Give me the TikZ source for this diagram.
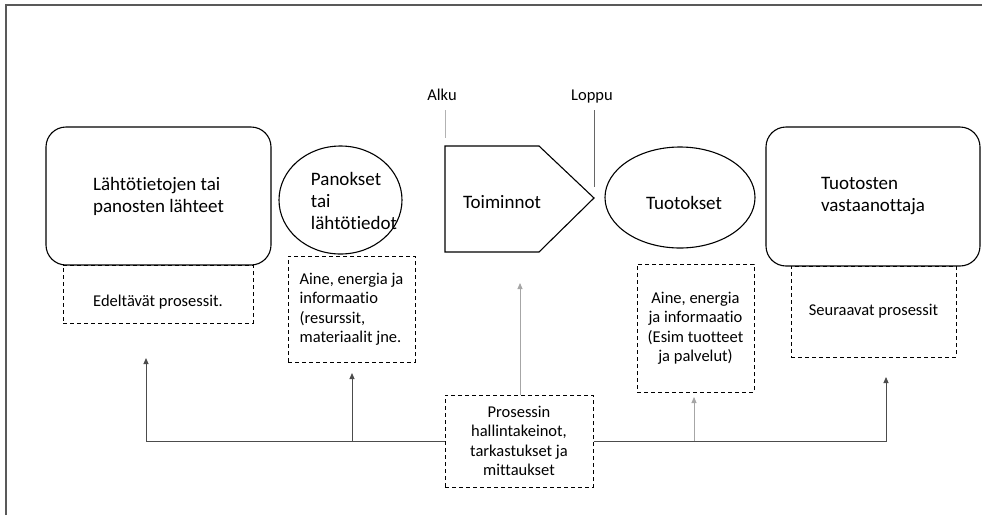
\documentclass[tikz,border=0pt]{standalone}
\usepackage{fontspec}
\setmainfont{Carlito}[Ligatures={NoCommon,NoContextual}]
\usetikzlibrary{arrows.meta,shapes.geometric}

\tikzset{
  bigtxt/.style={font=\fontsize{19}{22}\selectfont},
  smalltxt/.style={font=\fontsize{16.5}{19.5}\selectfont},
  marktxt/.style={font=\fontsize{16.5}{19}\selectfont, anchor=base},
  source/.style={draw, rounded corners=20pt, line width=1.1pt, bigtxt, align=left, inner sep=0pt},
  oval/.style={draw, ellipse, line width=1.1pt, inner sep=0pt},
  note/.style={draw, dash pattern=on 4pt off 3pt, line width=1pt, smalltxt, inner sep=0pt},
  feed/.style={-{Triangle[length=6pt,width=5pt]}, line width=0.9pt, draw=black!70},
  feedlight/.style={feed, draw=black!35},
}

\begin{document}
\begin{tikzpicture}[x=1pt,y=-1pt]
		\useasboundingbox (0,0) rectangle (982,515);
		% frame
		\draw[black!65, line width=2pt] (6,515) -- (6,5) -- (982,5);

		% sources and inputs
		\node[source, minimum width=225, minimum height=138] (src) at (158.5,196) {Lähtötietojen tai\\panosten lähteet};
		\node[note, minimum width=190, minimum height=58, text height=27pt] (prev) at (158,294) {Edeltävät prosessit.};
		\node[oval, minimum width=123, minimum height=108] (inp) at (340.5,200) {};
		\node[bigtxt, align=left] (inptxt) at (354,201) {Panokset\\tai\\lähtötiedot};
		\node[note, align=left, minimum width=127, minimum height=106] (res) at (351.5,309) {Aine, energia ja\\informaatio\\(resurssit,\\materiaalit jne.};

		% activities
		\coordinate (actNW) at (445,146);
		\coordinate (actTip) at (594,198);
		\draw[line width=1.1pt] (actNW) -- (539,146) -- (actTip) -- (539,252) -- (445,252) -- cycle;
		\node[bigtxt] (act) at (502,202) {Toiminnot};
		\node[marktxt] (start) at (442,100) {Alku};
		\node[marktxt] (stop) at (592,100) {Loppu};
		\draw[black!30, line width=1pt] (445,110) -- (actNW |- 0,138);
		\draw[black!60, line width=1pt] (actTip |- 0,110) -- (actTip |- 0,187);

		% outputs and receivers
		\node[oval, minimum width=150, minimum height=101] (out) at (680,197.5) {};
		\node[bigtxt] (outtxt) at (684,203) {Tuotokset};
		\node[note, align=center, minimum width=117, minimum height=128] (prod) at (695.5,328) {Aine, energia\\ja informaatio\\(Esim tuotteet\\ja palvelut)};
		\node[source, minimum width=214, minimum height=139] (recv) at (873,196.5) {Tuotosten\\vastaanottaja};
		\node[note, minimum width=165, minimum height=91] (next) at (873.5,311.5) {Seuraavat prosessit};

		% control
		\node[note, align=center, minimum width=148, minimum height=92] (ctrl) at (519,441) {Prosessin\\hallintakeinot,\\tarkastukset ja\\mittaukset};

		\coordinate (tipA) at (146,358);
		\coordinate (tipB) at (352,373);
		\coordinate (tipC) at (520,283);
		\coordinate (tipD) at (694,397);
		\coordinate (tipE) at (886,377);

		\draw[feed] (ctrl.west) -| (tipA);
		\draw[feed] (ctrl.west -| tipB) -- (tipB);
		\draw[feedlight] (ctrl.north -| tipC) -- (tipC);
		\draw[feed] (ctrl.east) -| (tipE);
		\draw[feedlight] (ctrl.east -| tipD) -- (tipD);
	\end{tikzpicture}
\end{document}
